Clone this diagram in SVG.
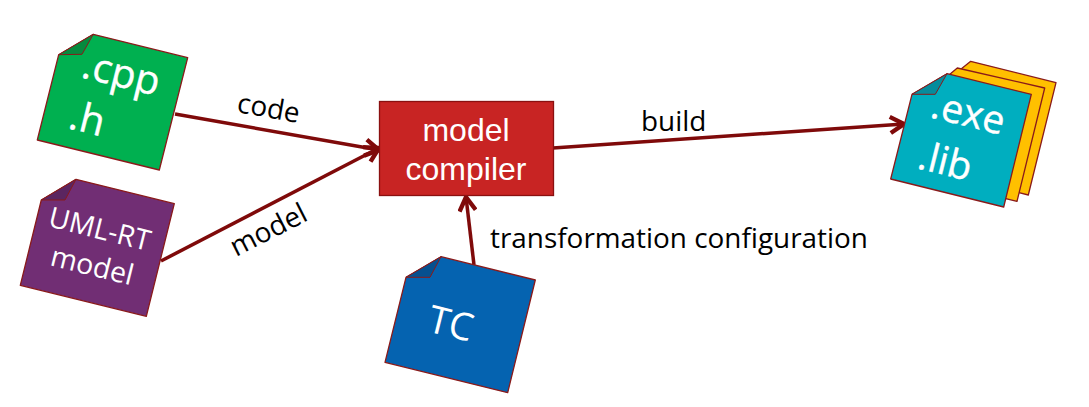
<svg xmlns="http://www.w3.org/2000/svg" width="1089" height="407" viewBox="0 0 1089 407">
<style>
.doc{stroke:#8a1a1a;stroke-width:1.3;stroke-linejoin:round}
.fold{stroke:#8a1a1a;stroke-width:1;stroke-linejoin:round}
.dt{font-family:"Open Sans",sans-serif;fill:#fff}
.lb{font-family:"Open Sans",sans-serif;font-size:27.900px;fill:#000}
.cn{fill:none;stroke:#7f0a0a;stroke-width:3.500}
</style>
<defs>
<marker id="a" markerUnits="userSpaceOnUse" markerWidth="20" markerHeight="20" refX="13" refY="8" orient="auto" viewBox="0 0 16 16"><path d="M2 1.500L13 8L2 14.500" fill="none" stroke="#7f0a0a" stroke-width="3.500"/></marker>
</defs>
<rect width="1089" height="407" fill="#fff"/>
<g id="connectors">
<path class="cn" d="M175 114L379 150" marker-end="url(#a)"/>
<path class="cn" d="M161 261L379 148" marker-end="url(#a)"/>
<path class="cn" d="M553 148L904 124" marker-end="url(#a)"/>
<path class="cn" d="M474 265L466 197" marker-end="url(#a)"/>
<text class="lb" transform="translate(236 112) rotate(10)">code</text>
<text class="lb" transform="translate(236 257) rotate(-27)">model</text>
<text class="lb" x="641" y="131">build</text>
<text class="lb" x="490" y="248">transformation configuration</text>
</g>
<g id="cpp">
<path class="doc" fill="#00b050" d="M93.300 34.300L187.700 57.700L159.300 170L37.300 140L58.700 54.700Z"/>
<path class="fold" fill="#068a3e" d="M58.700 54.700L93.300 34.300L82 54.300Z"/>
<text class="dt" font-size="40" stroke="#fff" stroke-width=".4" transform="translate(80 77) rotate(14)">.cpp</text>
<text class="dt" font-size="40" stroke="#fff" stroke-width=".4" transform="translate(67 128) rotate(14)">.h</text>
</g>
<g id="umlrt">
<path class="doc" fill="#712e74" d="M76 179.300L174.300 203.700L146.300 316.300L20.300 285.300L41.300 200Z"/>
<path class="fold" fill="#5b2560" d="M41.300 200L76 179.300L65 200Z"/>
<text class="dt" font-size="28.500" transform="translate(47 226) rotate(14)">UML-RT</text>
<text class="dt" font-size="28.500" transform="translate(49 265) rotate(14)">model</text>
</g>
<g id="compiler">
<rect x="379.500" y="101.500" width="174" height="94" fill="#c82423" stroke="#8a1010" stroke-width="1.300"/>
<text font-family="Liberation Sans,sans-serif" font-size="32" fill="#fff" text-anchor="middle"><tspan x="466" y="141">model</tspan><tspan x="466" y="180">compiler</tspan></text>
</g>
<g id="tc">
<path class="doc" fill="#0563b0" d="M441 256.700L535.300 280L507.700 392.700L385 362.300L406 277.300Z"/>
<path class="fold" fill="#06508f" d="M406 277.300L441 256.700L430 277.300Z"/>
<text class="dt" font-size="38" transform="translate(426 331) rotate(14)">TC</text>
</g>
<g id="exe">
<path class="doc" fill="#ffc000" d="M970.700 61.300L1056 82.700L1028.300 195L960 178L935 90Z"/>
<path class="doc" fill="#ffc000" d="M957.300 68L1044.700 88L1017 201.300L950 185L925 95Z"/>
<path class="doc" fill="#00aebf" d="M947 73.700L1031.300 94.300L1003.700 207L890.700 179L912 94.300Z"/>
<path class="fold" fill="#068c9c" d="M912 94.300L947 73.700L935.300 94.300Z"/>
<text class="dt" font-size="39" stroke="#fff" stroke-width=".4" transform="translate(929 117) rotate(14)">.exe</text>
<text class="dt" font-size="39" stroke="#fff" stroke-width=".4" transform="translate(916 168) rotate(14)">.lib</text>
</g>
</svg>
